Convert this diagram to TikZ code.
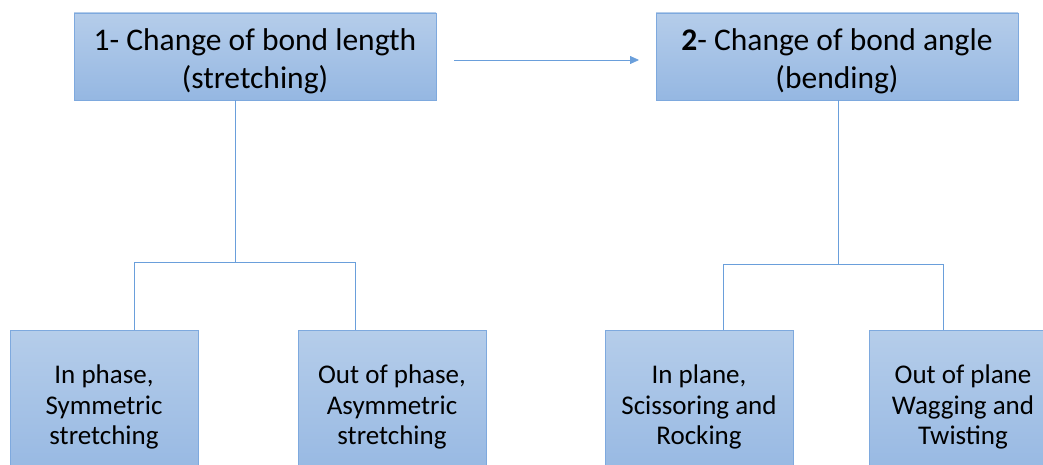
\documentclass[tikz,border=0pt]{standalone}
\usepackage{fontspec}
\setmainfont{Carlito}
\usetikzlibrary{arrows.meta}
\definecolor{boxtop}{HTML}{B5CDEA}
\definecolor{boxbot}{HTML}{95B7E2}
\definecolor{boxline}{HTML}{7EA9DE}
\definecolor{conn}{HTML}{6A9FDB}
\newcommand{\toppad}{\rule{0pt}{31.5pt}}
\tikzset{
  topbox/.style={draw=boxline, line width=0.8pt, top color=boxtop, bottom color=boxbot,
    minimum width=362pt, minimum height=87pt, align=center, inner sep=0pt,
    font=\fontsize{31.5}{38}\selectfont},
  subbox/.style={draw=boxline, line width=0.8pt, top color=boxtop, bottom color=boxbot,
    minimum width=188pt, minimum height=154pt, align=center, inner sep=0pt,
    font=\fontsize{27}{30.5}\selectfont},
  connline/.style={draw=conn, line width=0.8pt},
}
\begin{document}
\begin{tikzpicture}[x=1pt,y=-1pt]
\useasboundingbox (0,0) rectangle (1043,465);
\clip (0,0) rectangle (1043,465);
\node[topbox] (A) at (255,56.5) {\toppad 1- Change of bond length\\(stretching)};
\node[topbox] (B) at (837,56.5) {\toppad\textbf{2}- Change of bond angle\\(bending)};
\node[subbox] (A1) at (104,407) {In phase,\\Symmetric\\stretching};
\node[subbox] (A2) at (392,407) {Out of phase,\\Asymmetric\\stretching};
\node[subbox] (B1) at (699,407) {In plane,\\Scissoring and\\Rocking};
\node[subbox] (B2) at (963,407) {Out of plane\\Wagging and\\Twisting};
\coordinate (arrS) at (454,60);
\coordinate (arrE) at (639,60);
\draw[connline, -{Triangle[length=9pt,width=8pt]}] (arrS) -- (arrE);
\coordinate (ja) at (235,262);
\coordinate (ja1) at (134,262);
\coordinate (ja2) at (355,262);
\draw[connline] (A.south -| ja) -- (ja);
\draw[connline] (ja1 |- A1.north) -- (ja1) -- (ja2) -- (ja2 |- A2.north);
\coordinate (jb) at (838,264);
\coordinate (jb1) at (723,264);
\coordinate (jb2) at (943,264);
\draw[connline] (B.south -| jb) -- (jb);
\draw[connline] (jb1 |- B1.north) -- (jb1) -- (jb2) -- (jb2 |- B2.north);
\end{tikzpicture}
\end{document}
